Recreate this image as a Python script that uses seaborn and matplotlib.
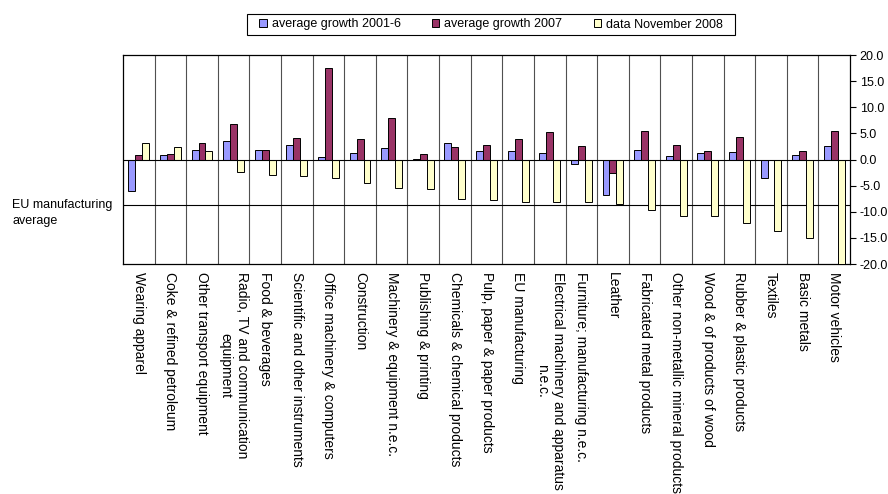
import matplotlib
matplotlib.use("Agg")
import matplotlib.pyplot as plt
from matplotlib.patches import Patch, Rectangle
import seaborn as sns
import pandas as pd

categories = [
    "Wearing apparel", "Coke & refined petroleum", "Other transport equipment",
    "Radio, TV and communication\nequipment", "Food & beverages",
    "Scientific and other instruments", "Office machinery & computers",
    "Construction", "Machinery & equipment n.e.c.", "Publishing & printing",
    "Chemicals & chemical products", "Pulp, paper & paper products",
    "EU manufacturing", "Electrical machinery and apparatus\nn.e.c.",
    "Furniture; manufacturing n.e.c.", "Leather", "Fabricated metal products",
    "Other non-metallic mineral products", "Wood & of products of wood",
    "Rubber & plastic products", "Textiles", "Basic metals", "Motor vehicles",
]
growth_2001_6 = [-6.0, 0.8, 1.9, 3.5, 1.9, 2.8, 0.5, 1.2, 2.2, 0.1, 3.1, 1.6,
                 1.6, 1.3, -0.9, -6.7, 1.9, 0.7, 1.3, 1.4, -3.6, 0.8, 2.6]
growth_2007 = [0.8, 1.0, 3.1, 6.8, 1.8, 4.2, 17.5, 4.0, 7.9, 1.0, 2.4, 2.8,
               4.0, 5.3, 2.6, -2.6, 5.4, 2.7, 1.7, 4.3, -0.1, 1.7, 5.4]
nov_2008 = [3.1, 2.4, 1.6, -2.3, -2.9, -3.1, -3.5, -4.5, -5.5, -5.6, -7.6, -7.7,
            -8.2, -8.2, -8.2, -8.6, -9.6, -10.9, -10.9, -12.1, -13.7, -15.0, -20.3]
series_names = ["average growth 2001-6", "average growth 2007", "data November 2008"]
series_colors = ["#9999FF", "#993366", "#FFFFCC"]
eu_average = -8.7
y_ticks = [-20, -15, -10, -5, 0, 5, 10, 15, 20]

df = pd.DataFrame({
    "category": categories * 3,
    "series": [series_names[0]] * len(categories) + [series_names[1]] * len(categories)
              + [series_names[2]] * len(categories),
    "value": growth_2001_6 + growth_2007 + nov_2008,
})

sns.set_theme(style="white")
plt.rcParams["font.family"] = ["Liberation Sans", "DejaVu Sans"]
plt.rcParams["axes.unicode_minus"] = False
plt.rcParams["text.color"] = "black"
plt.rcParams["xtick.color"] = "black"
plt.rcParams["ytick.color"] = "black"

W, H = 888, 494
fig = plt.figure(figsize=(W / 100, H / 100), dpi=100)
ax = fig.add_axes([123 / W, 1 - 264 / H, (850 - 123) / W, (264 - 55) / H])

sns.barplot(data=df, x="category", y="value", hue="series", order=categories,
            hue_order=series_names, palette=series_colors, width=0.66,
            edgecolor="black", linewidth=0.7, errorbar=None, legend=False,
            saturation=1, ax=ax, zorder=3)

n = len(categories)
ax.set_xlim(-0.5, n - 0.5)
ax.set_ylim(-20, 20)
for i in range(n - 1):
    ax.axvline(i + 0.5, color="#505050", lw=0.8, zorder=1)
ax.axhline(0, color="black", lw=0.8, zorder=4)
ax.axhline(eu_average, color="black", lw=0.8, zorder=2)

ax.yaxis.tick_right()
ax.set_yticks(y_ticks)
ax.set_yticklabels([f"{v:.1f}" for v in y_ticks], fontsize=9)
ax.tick_params(axis="y", which="major", length=4, width=0.8, color="black",
               direction="out", right=True, pad=3, labelcolor="black")
ax.set_xticks(range(n))
ax.set_xticklabels(categories, rotation=-90, ha="center", va="top",
                   multialignment="center", fontsize=10, color="black")
ax.tick_params(axis="x", length=0, pad=6)
ax.set_xlabel("")
ax.set_ylabel("")
for s in ax.spines.values():
    s.set_color("black")
    s.set_linewidth(0.9)

fig.text(12 / W, 1 - 213 / H, "EU manufacturing\naverage", fontsize=9,
         ha="left", va="center", linespacing=1.45, color="black")

handles = [Patch(facecolor=c, edgecolor="black", linewidth=0.7) for c in series_colors]
leg = fig.legend(handles, series_names, loc="center",
                 bbox_to_anchor=(491 / W, 1 - 24.5 / H),
                 ncol=3, fontsize=9, frameon=False,
                 handlelength=0.6, handleheight=0.6, handletextpad=0.4,
                 columnspacing=2.5, borderpad=0, borderaxespad=0)
for t in leg.get_texts():
    t.set_color("black")
fig.patches.append(Rectangle((247 / W, 1 - 35 / H), (735 - 247) / W, 21 / H,
                             transform=fig.transFigure, fill=False,
                             edgecolor="black", linewidth=0.8))

fig.savefig("out.png", dpi=100, facecolor="white")
